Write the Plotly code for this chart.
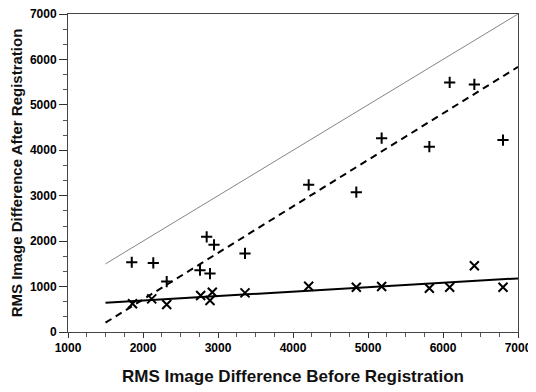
import plotly.graph_objects as go

# Data
plus_x = [1850, 2137, 2316, 2760, 2849, 2893, 2947, 3360, 4209, 4844, 5182, 5818, 6089, 6418, 6800]
plus_y = [1535, 1520, 1110, 1360, 2095, 1285, 1920, 1729, 3239, 3079, 4267, 4079, 5493, 5449, 4224]

cross_x = [1860, 2116, 2316, 2769, 2893, 2924, 3360, 4209, 4844, 5182, 5818, 6089, 6418, 6800]
cross_y = [621, 730, 606, 803, 693, 876, 862, 1007, 985, 1000, 963, 985, 1459, 985]

line_x = [1500, 7000]
identity_y = [1500, 7000]
plus_fit_y = [205, 5835]
cross_fit_y = [645, 1180]

x_tickvals = [1000, 2000, 3000, 4000, 5000, 6000, 7000]
y_tickvals = [0, 1000, 2000, 3000, 4000, 5000, 6000, 7000]

fig = go.Figure()
fig.add_trace(go.Scatter(x=line_x, y=identity_y, mode="lines",
                         line=dict(color="#666666", width=0.8), showlegend=False))
fig.add_trace(go.Scatter(x=line_x, y=plus_fit_y, mode="lines",
                         line=dict(color="black", width=2, dash="7px,5px"), showlegend=False))
fig.add_trace(go.Scatter(x=line_x, y=cross_fit_y, mode="lines",
                         line=dict(color="black", width=2), showlegend=False))
fig.add_trace(go.Scatter(x=plus_x, y=plus_y, mode="markers",
                         marker=dict(symbol="cross-thin", size=8, color="black",
                                     line=dict(color="black", width=2)), showlegend=False))
fig.add_trace(go.Scatter(x=cross_x, y=cross_y, mode="markers",
                         marker=dict(symbol="x-thin", size=9, color="black",
                                     line=dict(color="black", width=2)), showlegend=False))

tickfont = dict(family="Liberation Sans Narrow, Arial Narrow, Liberation Sans, Arial",
                size=12, color="black", weight="bold")

# page body has an 8px default margin, so the figure is sized to fit the window
fig.update_layout(
    width=528, height=384,
    margin=dict(l=60, r=18, t=6, b=60),
    paper_bgcolor="white", plot_bgcolor="white",
    xaxis=dict(range=[1000, 7000], tickvals=x_tickvals, ticks="outside", ticklen=5,
               tickcolor="#333", showgrid=False, zeroline=False, automargin=False,
               ticklabeloverflow="allow",
               showline=True, mirror=True, linecolor="#444", linewidth=1,
               tickfont=tickfont,
               minor=dict(dtick=250, tick0=1000, ticks="outside", ticklen=4, tickcolor="#555"),
               title=dict(text="<b>RMS Image Difference Before Registration</b>",
                          font=dict(family="Liberation Sans, Arial", size=17, color="#111111"),
                          standoff=15)),
    yaxis=dict(range=[0, 7000], tickvals=y_tickvals, ticks="outside", ticklen=8,
               tickcolor="#333", showgrid=False, zeroline=False, automargin=False,
               ticklabeloverflow="allow",
               showline=True, mirror=True, linecolor="#444", linewidth=1,
               tickfont=tickfont,
               minor=dict(dtick=1000/3, tick0=0, ticks="outside", ticklen=4, tickcolor="#555"),
               title=dict(text="<b>RMS Image Difference After Registration</b>",
                          font=dict(family="Liberation Sans, Arial", size=15, color="#111111"),
                          standoff=6)),
)

fig.write_html("out.html")
